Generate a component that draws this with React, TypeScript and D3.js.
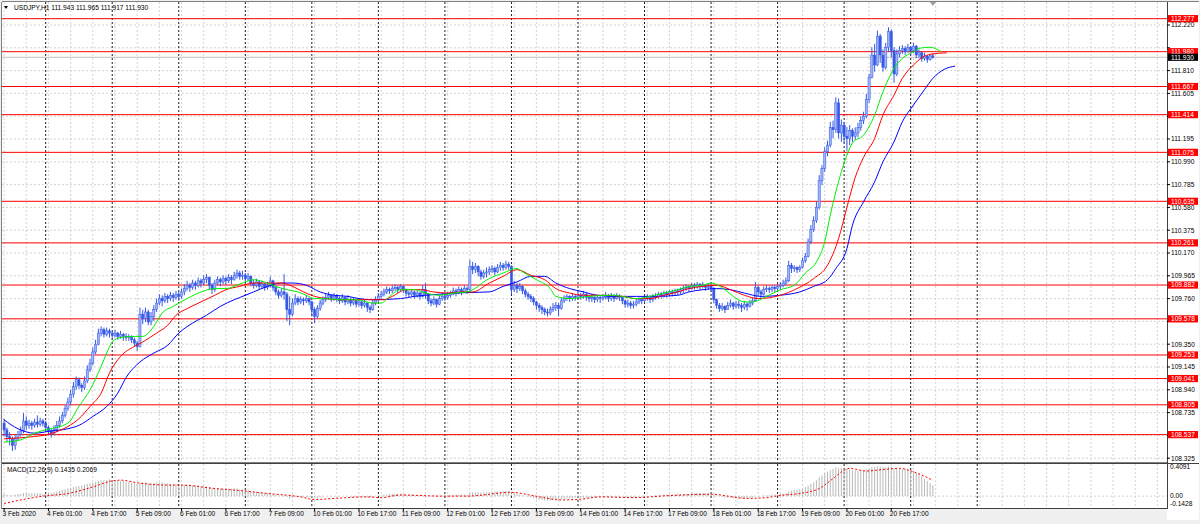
import React from 'react';
import * as d3 from 'd3';

// ---------- DATA ----------
const firstOpen = 108.64;
const closes = [
  108.58,108.52,108.50,108.44,108.50,108.54,108.57,108.66,108.62,108.64,
  108.62,108.65,108.63,108.66,108.64,108.60,108.57,108.55,108.58,108.62,
  108.66,108.71,108.77,108.83,108.90,108.97,109.03,108.98,108.96,109.02,
  109.12,109.18,109.28,109.35,109.45,109.48,109.44,109.47,109.45,109.43,
  109.45,109.42,109.44,109.42,109.41,109.42,109.39,109.36,109.33,109.62,
  109.58,109.64,109.55,109.60,109.66,109.72,109.76,109.74,109.78,109.76,
  109.79,109.77,109.80,109.78,109.82,109.85,109.88,109.86,109.90,109.88,
  109.92,109.90,109.93,109.95,109.88,109.84,109.90,109.93,109.91,109.94,
  109.92,109.95,109.93,109.97,109.99,109.96,109.97,109.94,109.96,109.90,
  109.88,109.91,109.87,109.89,109.86,109.88,109.92,109.86,109.82,109.79,
  109.82,109.80,109.66,109.62,109.72,109.76,109.73,109.75,109.74,109.76,
  109.73,109.66,109.60,109.67,109.72,109.75,109.77,109.79,109.76,109.78,
  109.76,109.74,109.77,109.73,109.75,109.72,109.74,109.71,109.73,109.70,
  109.72,109.68,109.66,109.72,109.75,109.78,109.80,109.82,109.84,109.83,
  109.85,109.86,109.84,109.87,109.84,109.81,109.80,109.82,109.79,109.81,
  109.78,109.84,109.80,109.74,109.72,109.75,109.71,109.76,109.78,109.77,
  109.79,109.80,109.83,109.81,109.84,109.82,109.85,109.84,110.05,110.02,
  110.05,110.00,109.96,109.99,110.00,110.02,110.03,110.00,110.04,110.06,
  110.04,110.07,110.05,109.84,109.88,109.85,109.87,109.83,109.80,109.78,
  109.76,109.73,109.70,109.68,109.66,109.64,109.63,109.66,109.68,109.70,
  109.67,109.74,109.76,109.78,109.76,109.78,109.77,109.79,109.78,109.80,
  109.77,109.76,109.77,109.75,109.77,109.76,109.77,109.79,109.76,109.78,
  109.76,109.78,109.77,109.74,109.71,109.72,109.70,109.71,109.73,109.75,
  109.74,109.76,109.77,109.75,109.77,109.78,109.80,109.79,109.81,109.80,
  109.82,109.81,109.83,109.82,109.84,109.85,109.86,109.85,109.88,109.87,
  109.89,109.87,109.88,109.86,109.87,109.85,109.75,109.70,109.67,109.69,
  109.66,109.70,109.72,109.69,109.71,109.70,109.68,109.71,109.69,109.72,
  109.74,109.86,109.82,109.80,109.84,109.85,109.84,109.86,109.85,109.87,
  109.88,109.90,109.92,110.06,110.03,110.04,110.02,110.04,110.10,110.14,
  110.27,110.38,110.46,110.58,110.82,110.93,111.08,111.14,111.30,111.28,
  111.52,111.25,111.32,111.22,111.20,111.27,111.22,111.25,111.30,111.36,
  111.40,111.55,111.75,111.95,111.86,112.12,111.95,111.84,112.02,112.16,
  111.99,111.78,111.96,111.99,112.01,111.98,112.02,111.99,112.03,111.95,
  111.97,111.92,111.94,111.91,111.943,111.930
];
const highs = [
  108.68,108.60,108.56,108.52,108.53,108.57,108.61,108.73,108.70,108.67,
  108.66,108.68,108.71,108.69,108.68,108.66,108.62,108.59,108.62,108.66,
  108.70,108.74,108.80,108.87,108.94,109.01,109.06,109.05,109.00,109.06,
  109.16,109.22,109.32,109.39,109.49,109.51,109.50,109.50,109.49,109.47,
  109.48,109.46,109.47,109.45,109.45,109.44,109.43,109.41,109.38,109.68,
  109.66,109.68,109.66,109.64,109.70,109.76,109.80,109.79,109.81,109.80,
  109.82,109.81,109.83,109.82,109.85,109.89,109.92,109.90,109.93,109.92,
  109.95,109.94,109.97,109.98,109.96,109.90,109.93,109.96,109.95,109.97,
  109.96,109.98,109.97,110.00,110.02,110.01,110.01,109.99,109.99,109.97,
  109.93,109.94,109.92,109.92,109.90,109.91,109.96,109.93,109.87,109.84,
  109.85,109.98,109.82,109.78,109.76,109.80,109.78,109.78,109.77,109.79,
  109.77,109.74,109.68,109.70,109.75,109.78,109.80,109.82,109.80,109.81,
  109.80,109.78,109.80,109.78,109.79,109.77,109.77,109.75,109.76,109.74,
  109.75,109.73,109.70,109.75,109.78,109.81,109.83,109.85,109.87,109.86,
  109.88,109.89,109.88,109.89,109.88,109.85,109.83,109.84,109.83,109.83,
  109.82,109.88,109.90,109.81,109.76,109.78,109.76,109.79,109.81,109.80,
  109.82,109.83,109.86,109.85,109.87,109.86,109.88,109.87,110.11,110.09,
  110.08,110.06,110.02,110.02,110.04,110.05,110.06,110.05,110.07,110.09,
  110.08,110.10,110.09,110.06,109.92,109.90,109.90,109.88,109.85,109.82,
  109.80,109.78,109.74,109.72,109.70,109.68,109.67,109.69,109.72,109.73,
  109.72,109.77,109.79,109.80,109.79,109.81,109.80,109.82,109.81,109.83,
  109.81,109.79,109.80,109.78,109.79,109.79,109.80,109.82,109.80,109.81,
  109.80,109.81,109.80,109.78,109.75,109.75,109.74,109.74,109.76,109.77,
  109.77,109.79,109.80,109.79,109.80,109.81,109.82,109.82,109.83,109.83,
  109.84,109.84,109.85,109.85,109.86,109.88,109.89,109.88,109.90,109.90,
  109.91,109.90,109.91,109.89,109.90,109.89,109.86,109.76,109.72,109.72,
  109.70,109.73,109.75,109.73,109.74,109.74,109.72,109.74,109.73,109.75,
  109.77,109.91,109.88,109.84,109.87,109.88,109.87,109.88,109.88,109.89,
  109.91,109.93,109.95,110.10,110.08,110.06,110.05,110.06,110.13,110.17,
  110.30,110.42,110.50,110.63,110.87,110.96,111.12,111.18,111.35,111.36,
  111.57,111.56,111.37,111.35,111.30,111.32,111.29,111.30,111.34,111.40,
  111.44,111.60,111.78,112.02,112.05,112.17,112.14,112.00,112.06,112.20,
  112.18,112.02,112.00,112.03,112.04,112.03,112.05,112.03,112.06,112.04,
  112.00,111.98,111.97,111.95,111.96,111.965
];
const lows = [
  108.52,108.47,108.44,108.39,108.40,108.48,108.52,108.55,108.58,108.59,
  108.58,108.60,108.60,108.61,108.61,108.57,108.53,108.51,108.53,108.56,
  108.60,108.64,108.69,108.75,108.80,108.87,108.94,108.95,108.92,108.94,
  109.00,109.10,109.16,109.26,109.34,109.42,109.41,109.42,109.41,109.39,
  109.41,109.39,109.40,109.38,109.38,109.38,109.36,109.33,109.29,109.32,
  109.53,109.55,109.52,109.52,109.56,109.64,109.70,109.69,109.72,109.72,
  109.74,109.73,109.75,109.74,109.76,109.79,109.83,109.82,109.84,109.84,
  109.86,109.86,109.88,109.90,109.84,109.80,109.82,109.88,109.87,109.89,
  109.88,109.90,109.89,109.92,109.94,109.93,109.93,109.91,109.92,109.87,
  109.85,109.86,109.84,109.85,109.83,109.84,109.86,109.83,109.79,109.76,
  109.77,109.75,109.56,109.52,109.60,109.70,109.70,109.71,109.70,109.72,
  109.70,109.60,109.54,109.58,109.65,109.70,109.73,109.75,109.73,109.74,
  109.73,109.71,109.72,109.70,109.71,109.69,109.70,109.68,109.69,109.67,
  109.68,109.64,109.63,109.65,109.70,109.73,109.76,109.78,109.80,109.80,
  109.81,109.83,109.81,109.83,109.81,109.78,109.77,109.78,109.76,109.77,
  109.75,109.77,109.76,109.71,109.69,109.70,109.68,109.70,109.74,109.74,
  109.75,109.77,109.79,109.78,109.80,109.79,109.81,109.80,109.83,109.98,
  109.99,109.96,109.93,109.94,109.95,109.97,109.99,109.97,109.99,110.01,
  110.01,110.02,110.02,109.80,109.82,109.81,109.83,109.80,109.77,109.75,
  109.73,109.70,109.66,109.64,109.62,109.61,109.60,109.61,109.64,109.65,
  109.60,109.66,109.72,109.74,109.73,109.74,109.74,109.75,109.75,109.76,
  109.74,109.73,109.73,109.72,109.73,109.72,109.74,109.75,109.73,109.74,
  109.73,109.75,109.74,109.71,109.68,109.68,109.67,109.67,109.69,109.71,
  109.71,109.72,109.74,109.72,109.73,109.75,109.76,109.76,109.77,109.77,
  109.78,109.78,109.79,109.79,109.80,109.81,109.83,109.82,109.84,109.84,
  109.85,109.84,109.85,109.83,109.84,109.82,109.72,109.67,109.64,109.65,
  109.63,109.66,109.68,109.66,109.67,109.67,109.64,109.66,109.65,109.68,
  109.70,109.73,109.78,109.76,109.79,109.82,109.81,109.82,109.82,109.83,
  109.84,109.86,109.88,109.91,109.99,110.00,109.99,110.00,110.03,110.08,
  110.13,110.25,110.36,110.44,110.56,110.78,110.90,111.04,111.12,111.20,
  111.25,111.20,111.17,111.16,111.09,111.14,111.17,111.19,111.21,111.27,
  111.33,111.38,111.52,111.74,111.80,111.85,111.88,111.80,111.82,111.98,
  111.93,111.70,111.76,111.93,111.96,111.95,111.97,111.95,111.97,111.92,
  111.92,111.89,111.90,111.88,111.90,111.917
];

// Alligator lines: [bar index, price]
const lipsPts: [number, number][] = [
  [0,108.47],[6,108.49],[11,108.55],[15,108.58],[23,108.64],[27,108.79],[31,108.94],[35,109.15],
  [37,109.27],[39,109.37],[42,109.41],[47,109.42],[50,109.42],[54,109.51],[57,109.63],[61,109.69],
  [66,109.76],[71,109.82],[76,109.85],[80,109.85],[85,109.89],[90,109.93],[95,109.90],[98,109.87],
  [102,109.84],[106,109.82],[109,109.79],[112,109.76],[116,109.76],[121,109.75],[127,109.75],[133,109.72],
  [136,109.72],[139,109.78],[143,109.84],[148,109.84],[152,109.81],[157,109.79],[162,109.81],[167,109.82],
  [171,109.87],[173,109.91],[175,109.94],[180,109.99],[185,110.03],[187,110.00],[192,109.93],[197,109.85],
  [199,109.78],[204,109.76],[211,109.78],[219,109.79],[223,109.78],[228,109.76],[233,109.78],[238,109.81],
  [243,109.84],[247,109.87],[252,109.88],[255,109.90],[260,109.84],[263,109.78],[267,109.73],[270,109.73],
  [275,109.78],[280,109.84],[285,109.88],[289,109.99],[293,110.09],[296,110.27],[298,110.51],[300,110.72],
  [302,110.90],[304,111.05],[306,111.16],[310,111.23],[314,111.41],[317,111.62],[321,111.83],[324,111.92],
  [328,111.98],[330,112.01],[334,112.02],[338,111.98]
];
const teethPts: [number, number][] = [
  [0,108.50],[11,108.52],[14,108.53],[23,108.61],[27,108.68],[31,108.79],[35,108.91],[38,109.09],
  [42,109.24],[47,109.33],[50,109.37],[55,109.45],[59,109.52],[62,109.61],[66,109.67],[71,109.73],
  [76,109.79],[80,109.84],[85,109.87],[90,109.90],[95,109.90],[100,109.90],[104,109.87],[108,109.82],
  [112,109.78],[116,109.76],[121,109.75],[128,109.75],[137,109.75],[140,109.78],[145,109.84],[150,109.84],
  [155,109.82],[160,109.81],[165,109.82],[169,109.82],[175,109.90],[180,109.96],[185,110.02],[190,109.97],
  [195,109.93],[199,109.85],[204,109.81],[209,109.79],[216,109.79],[223,109.78],[228,109.76],[233,109.76],
  [238,109.79],[243,109.82],[247,109.85],[252,109.87],[257,109.88],[262,109.84],[267,109.79],[272,109.76],
  [280,109.79],[286,109.85],[292,109.94],[297,110.06],[301,110.30],[304,110.58],[307,110.85],[310,111.03],
  [314,111.20],[317,111.41],[321,111.59],[324,111.74],[328,111.86],[332,111.94],[335,111.96],[340,111.97]
];
const jawPts: [number, number][] = [
  [0,108.67],[5,108.59],[11,108.55],[17,108.57],[23,108.59],[27,108.62],[32,108.70],[37,108.79],
  [41,108.91],[44,109.05],[49,109.19],[54,109.27],[59,109.34],[63,109.45],[68,109.54],[73,109.61],
  [78,109.69],[83,109.75],[85,109.77],[90,109.82],[95,109.87],[100,109.90],[104,109.90],[109,109.88],
  [114,109.82],[119,109.79],[124,109.78],[128,109.76],[133,109.75],[143,109.76],[148,109.78],[152,109.79],
  [157,109.80],[162,109.81],[175,109.82],[180,109.87],[185,109.91],[190,109.96],[195,109.96],[199,109.90],
  [204,109.85],[209,109.82],[214,109.79],[221,109.78],[228,109.78],[235,109.78],[243,109.79],[247,109.82],
  [252,109.84],[257,109.85],[262,109.84],[267,109.81],[273,109.78],[280,109.79],[287,109.82],[292,109.87],
  [297,109.93],[300,110.03],[304,110.21],[306,110.42],[310,110.63],[314,110.81],[317,110.99],[321,111.17],
  [324,111.35],[328,111.50],[332,111.64],[335,111.74],[339,111.82],[343,111.85]
];

// MACD(12,26,9) main values per bar
const macdMain = [
  0.03,0.02,0.01,0.01,0.02,0.03,0.03,0.04,0.04,0.04,0.04,0.04,
  0.04,0.04,0.03,0.03,0.04,0.04,0.05,0.06,0.07,0.08,0.09,0.10,
  0.11,0.12,0.13,0.13,0.14,0.15,0.16,0.17,0.18,0.19,0.20,0.21,
  0.21,0.21,0.22,0.21,0.21,0.21,0.20,0.20,0.19,0.19,0.18,0.17,
  0.16,0.18,0.18,0.18,0.17,0.17,0.17,0.18,0.18,0.18,0.17,0.17,
  0.16,0.16,0.16,0.15,0.15,0.15,0.15,0.15,0.14,0.14,0.14,0.13,
  0.13,0.13,0.12,0.11,0.11,0.11,0.10,0.10,0.10,0.10,0.10,0.10,
  0.10,0.09,0.09,0.08,0.08,0.07,0.06,0.06,0.05,0.05,0.04,0.04,
  0.04,0.03,0.02,0.01,0.01,0.01,-0.01,-0.03,-0.02,-0.01,-0.01,-0.01,
  -0.01,-0.01,-0.01,-0.02,-0.03,-0.03,-0.02,-0.01,0.0,0.0,0.0,0.0,
  0.0,0.0,0.0,0.0,0.0,-0.01,-0.01,-0.01,-0.01,-0.01,-0.01,-0.02,
  -0.02,-0.01,0.0,0.01,0.01,0.02,0.02,0.03,0.03,0.03,0.03,0.03,
  0.03,0.02,0.02,0.02,0.01,0.01,0.01,0.01,0.01,0.0,0.0,0.0,
  -0.01,0.0,0.0,0.0,0.01,0.01,0.01,0.02,0.02,0.02,0.02,0.02,
  0.04,0.05,0.05,0.05,0.05,0.05,0.05,0.05,0.06,0.06,0.06,0.06,
  0.07,0.07,0.07,0.05,0.04,0.03,0.02,0.01,0.0,-0.01,-0.02,-0.03,
  -0.04,-0.05,-0.05,-0.06,-0.06,-0.06,-0.05,-0.05,-0.05,-0.04,-0.04,-0.03,
  -0.03,-0.03,-0.02,-0.02,-0.02,-0.02,-0.02,-0.02,-0.02,-0.02,-0.01,-0.01,
  -0.01,-0.01,-0.01,-0.01,-0.01,-0.01,-0.01,-0.01,-0.02,-0.02,-0.02,-0.02,
  -0.02,-0.01,-0.01,-0.01,0.0,0.0,0.0,0.01,0.01,0.01,0.02,0.02,
  0.02,0.02,0.02,0.03,0.03,0.03,0.03,0.03,0.04,0.04,0.04,0.04,
  0.04,0.04,0.04,0.04,0.02,0.01,0.0,-0.01,-0.02,-0.02,-0.02,-0.03,
  -0.03,-0.03,-0.03,-0.03,-0.03,-0.02,-0.02,0.0,0.0,0.0,0.01,0.01,
  0.01,0.02,0.02,0.02,0.03,0.03,0.04,0.06,0.07,0.08,0.08,0.09,
  0.10,0.12,0.14,0.16,0.18,0.21,0.25,0.27,0.30,0.32,0.34,0.36,
  0.38,0.37,0.37,0.36,0.35,0.35,0.34,0.34,0.34,0.34,0.34,0.35,
  0.36,0.38,0.38,0.39,0.39,0.38,0.38,0.39,0.38,0.36,0.36,0.36,
  0.36,0.36,0.35,0.34,0.33,0.31,0.29,0.26,0.23,0.20,0.17,0.1435
];
// MACD signal line: [bar index, value]
const signalPts: [number, number][] = [
  [0,-0.096],[14,0.0],[23,0.035],[32,0.12],[39,0.20],[42,0.21],[49,0.17],[59,0.145],[64,0.145],
  [76,0.10],[83,0.08],[95,0.035],[107,-0.01],[112,-0.045],[119,-0.03],[131,-0.01],[136,-0.02],
  [143,0.015],[158,0.0],[167,0.0],[183,0.05],[191,0.005],[201,-0.05],[208,-0.04],[215,-0.01],
  [227,-0.02],[239,0.005],[255,0.025],[268,-0.03],[275,-0.02],[280,0.01],[287,0.035],[294,0.10],
  [299,0.23],[303,0.34],[305,0.365],[311,0.33],[317,0.35],[323,0.365],[328,0.32],[335,0.2069]
];

const levels = [112.277,111.980,111.667,111.414,111.075,110.635,110.261,109.882,109.578,109.253,109.041,108.805,108.537];
const priceTicks = ['108.325','108.530','108.735','108.940','109.145','109.350','109.555','109.760','109.965','110.170',
  '110.375','110.580','110.785','110.990','111.195','111.400','111.605','111.810','112.015','112.220'];
const timeLabels = ['3 Feb 2020','4 Feb 01:00','4 Feb 17:00','5 Feb 09:00','6 Feb 01:00','6 Feb 17:00','7 Feb 09:00',
  '10 Feb 01:00','10 Feb 17:00','11 Feb 09:00','12 Feb 01:00','12 Feb 17:00','13 Feb 09:00','14 Feb 01:00',
  '14 Feb 17:00','17 Feb 09:00','18 Feb 01:00','18 Feb 17:00','19 Feb 09:00','20 Feb 01:00','20 Feb 17:00'];
const dayStarts = [15,39,63,87,111,135,159,183,207,231,255,279,303,327,351];
const headerText = 'USDJPY,H1  111.943 111.965 111.917 111.930';
const macdHeader = 'MACD(12,26,9) 0.1435 0.2069';
const macdTop = 0.4091, macdBottom = -0.1428;
const bidPrice = 111.930;

// ---------- LAYOUT ----------
const W = 1200, H = 524;
const PL = 2, PR = 1167;
const MAIN_T = 2, MAIN_B = 462;
const MACD_T = 464, MACD_B = 508;
const BAR0_X = 4.1, BAR_STEP = 2.7724;
const FONT = '"Liberation Sans", Arial, sans-serif';
const FS = 6.6;

export default function App() {
  const nBars = closes.length;
  const x = d3.scaleLinear().domain([0, 1]).range([BAR0_X, BAR0_X + BAR_STEP]);
  const y = d3.scaleLinear().domain([108.325, 112.22]).range([458.2, 25]);
  const ym = d3.scaleLinear().domain([macdBottom, macdTop]).range([507, 465]);

  const opens = closes.map((c, i) => (i === 0 ? firstOpen : closes[i - 1]));
  const line = d3.line<[number, number]>().x(d => x(d[0])).y(d => y(d[1])).curve(d3.curveMonotoneX);
  const sigLine = d3.line<[number, number]>().x(d => x(d[0])).y(d => ym(d[1])).curve(d3.curveMonotoneX);

  const gridBars = d3.range(0, Math.floor((PR - BAR0_X) / BAR_STEP), 8);
  const candleUp = '#9fb4f4';
  const candleDn = '#3558e6';
  const wick = '#3558e6';

  // axis tick labels hidden behind the coloured level / bid labels
  const boxed = [...levels, bidPrice];
  const visibleTicks = priceTicks.filter(t => boxed.every(l => Math.abs(y(+t) - y(l)) > 5));

  return (
    <svg width={W} height={H} style={{ position: 'fixed', left: 0, top: 0, background: '#fff' }}
      fontFamily={FONT}>
      <rect x={0} y={0} width={W} height={H} fill="#f0f0f0" />
      <rect x={PL} y={MAIN_T} width={PR - PL} height={MACD_B - MAIN_T} fill="#fff" />
      <rect x={PR} y={MAIN_T} width={W - PR - 1} height={H - MAIN_T - 4} fill="#fff" />

      {/* horizontal grid */}
      {priceTicks.map(t => (
        <line key={'hg' + t} x1={PL} x2={PR} y1={y(+t)} y2={y(+t)} stroke="#c8c8c8" strokeDasharray="2,2" strokeWidth={0.8} />
      ))}
      <line x1={PL} x2={PR} y1={ym(0)} y2={ym(0)} stroke="#c8c8c8" strokeDasharray="2,2" strokeWidth={0.8} />

      {/* vertical grid */}
      {gridBars.map(b => (
        <g key={'vg' + b}>
          <line x1={x(b)} x2={x(b)} y1={MAIN_T} y2={MAIN_B} stroke="#c8c8c8" strokeDasharray="2,2" strokeWidth={0.8} />
          <line x1={x(b)} x2={x(b)} y1={MACD_T} y2={MACD_B} stroke="#c8c8c8" strokeDasharray="2,2" strokeWidth={0.8} />
        </g>
      ))}
      {dayStarts.map(b => (
        <g key={'ds' + b}>
          <line x1={x(b)} x2={x(b)} y1={MAIN_T} y2={MAIN_B} stroke="#000" strokeDasharray="2,2" strokeWidth={0.9} />
          <line x1={x(b)} x2={x(b)} y1={MACD_T} y2={MACD_B} stroke="#000" strokeDasharray="2,2" strokeWidth={0.9} />
        </g>
      ))}

      {/* bid line */}
      <line x1={PL} x2={PR} y1={y(bidPrice)} y2={y(bidPrice)} stroke="#c0c0c0" strokeWidth={1} />

      {/* level lines */}
      {levels.map(l => (
        <line key={'lv' + l} x1={PL} x2={PR} y1={y(l)} y2={y(l)} stroke="#ff0000" strokeWidth={1} />
      ))}

      {/* candles */}
      {closes.map((c, i) => {
        const o = opens[i];
        const hi = Math.max(highs[i], o, c);
        const lo = Math.min(lows[i], o, c);
        const up = c >= o;
        const top = y(Math.max(o, c));
        const bot = y(Math.min(o, c));
        const cx = x(i);
        return (
          <g key={'c' + i}>
            <line x1={cx} x2={cx} y1={y(hi)} y2={y(lo)} stroke={wick} strokeWidth={1} />
            <rect x={cx - 1.1} y={top} width={2.2} height={Math.max(0.8, bot - top)} fill={up ? candleUp : candleDn}
              stroke={wick} strokeWidth={0.5} />
          </g>
        );
      })}

      {/* alligator */}
      <path d={line(jawPts) || ''} fill="none" stroke="#0000ff" strokeWidth={1} />
      <path d={line(teethPts) || ''} fill="none" stroke="#ff0000" strokeWidth={1} />
      <path d={line(lipsPts) || ''} fill="none" stroke="#00ee00" strokeWidth={1} />

      {/* MACD */}
      {macdMain.map((v, i) => (
        <line key={'m' + i} x1={x(i)} x2={x(i)} y1={ym(0)} y2={ym(v)} stroke="#b8b8b8" strokeWidth={1} />
      ))}
      <path d={sigLine(signalPts) || ''} fill="none" stroke="#ff0000" strokeWidth={1} strokeDasharray="2,2" />

      {/* panel frames */}
      <line x1={PL} x2={PR} y1={MAIN_B + 0.5} y2={MAIN_B + 0.5} stroke="#808080" strokeWidth={1} />
      <line x1={PL} x2={W - 1} y1={MACD_T - 0.5} y2={MACD_T - 0.5} stroke="#404040" strokeWidth={1} />
      <line x1={PL} x2={PR} y1={MACD_B + 0.5} y2={MACD_B + 0.5} stroke="#404040" strokeWidth={1} />
      <line x1={PR + 0.5} x2={PR + 0.5} y1={MAIN_T} y2={MACD_B + 1} stroke="#404040" strokeWidth={1} />
      <line x1={PL - 0.5} x2={PL - 0.5} y1={MAIN_T} y2={MACD_B + 1} stroke="#808080" strokeWidth={1} />
      <line x1={PL} x2={W - 1} y1={MAIN_T - 0.5} y2={MAIN_T - 0.5} stroke="#808080" strokeWidth={1} />

      {/* price axis */}
      {priceTicks.map(t => (
        <line key={'tk' + t} x1={PR} x2={PR + 3} y1={y(+t)} y2={y(+t)} stroke="#000" />
      ))}
      {visibleTicks.map(t => (
        <text key={'pt' + t} x={1171} y={y(+t)} dy="0.35em" fontSize={FS} fill="#000">{t}</text>
      ))}
      {levels.map(l => (
        <g key={'lb' + l}>
          <rect x={1168} y={y(l) - 3.6} width={30} height={7.2} fill="#ff0000" />
          <text x={1171} y={y(l)} dy="0.35em" fontSize={FS} fill="#fff">{l.toFixed(3)}</text>
        </g>
      ))}
      <rect x={1168} y={y(bidPrice) - 3.6} width={30} height={7.2} fill="#000" />
      <text x={1171} y={y(bidPrice)} dy="0.35em" fontSize={FS} fill="#fff">{bidPrice.toFixed(3)}</text>

      {/* MACD axis */}
      <text x={1170} y={ym(macdTop) + 2} dy="0.35em" fontSize={FS} fill="#000">{macdTop.toFixed(4)}</text>
      <text x={1170} y={ym(0)} dy="0.35em" fontSize={FS} fill="#000">0.00</text>
      <text x={1170} y={ym(macdBottom) - 3} dy="0.35em" fontSize={FS} fill="#000">{macdBottom.toFixed(4)}</text>

      {/* time axis */}
      {timeLabels.map((t, k) => (
        <g key={'tl' + t}>
          <line x1={x(k * 16)} x2={x(k * 16)} y1={MACD_B} y2={MACD_B + 3} stroke="#000" />
          <text x={x(k * 16) - 1.5} y={514} dy="0.35em" fontSize={FS} fill="#000">{t}</text>
        </g>
      ))}

      {/* headers */}
      <path d="M4,6 L8,6 L6,9 Z" fill="#000" />
      <text x={14} y={7.5} dy="0.35em" fontSize={FS} fill="#000">{headerText}</text>
      <text x={7} y={469.5} dy="0.35em" fontSize={FS} fill="#000">{macdHeader}</text>
      <path d={`M${x(nBars - 1) - 3},2 L${x(nBars - 1) + 3},2 L${x(nBars - 1)},6 Z`} fill="#a0a0a0" />
    </svg>
  );
}
